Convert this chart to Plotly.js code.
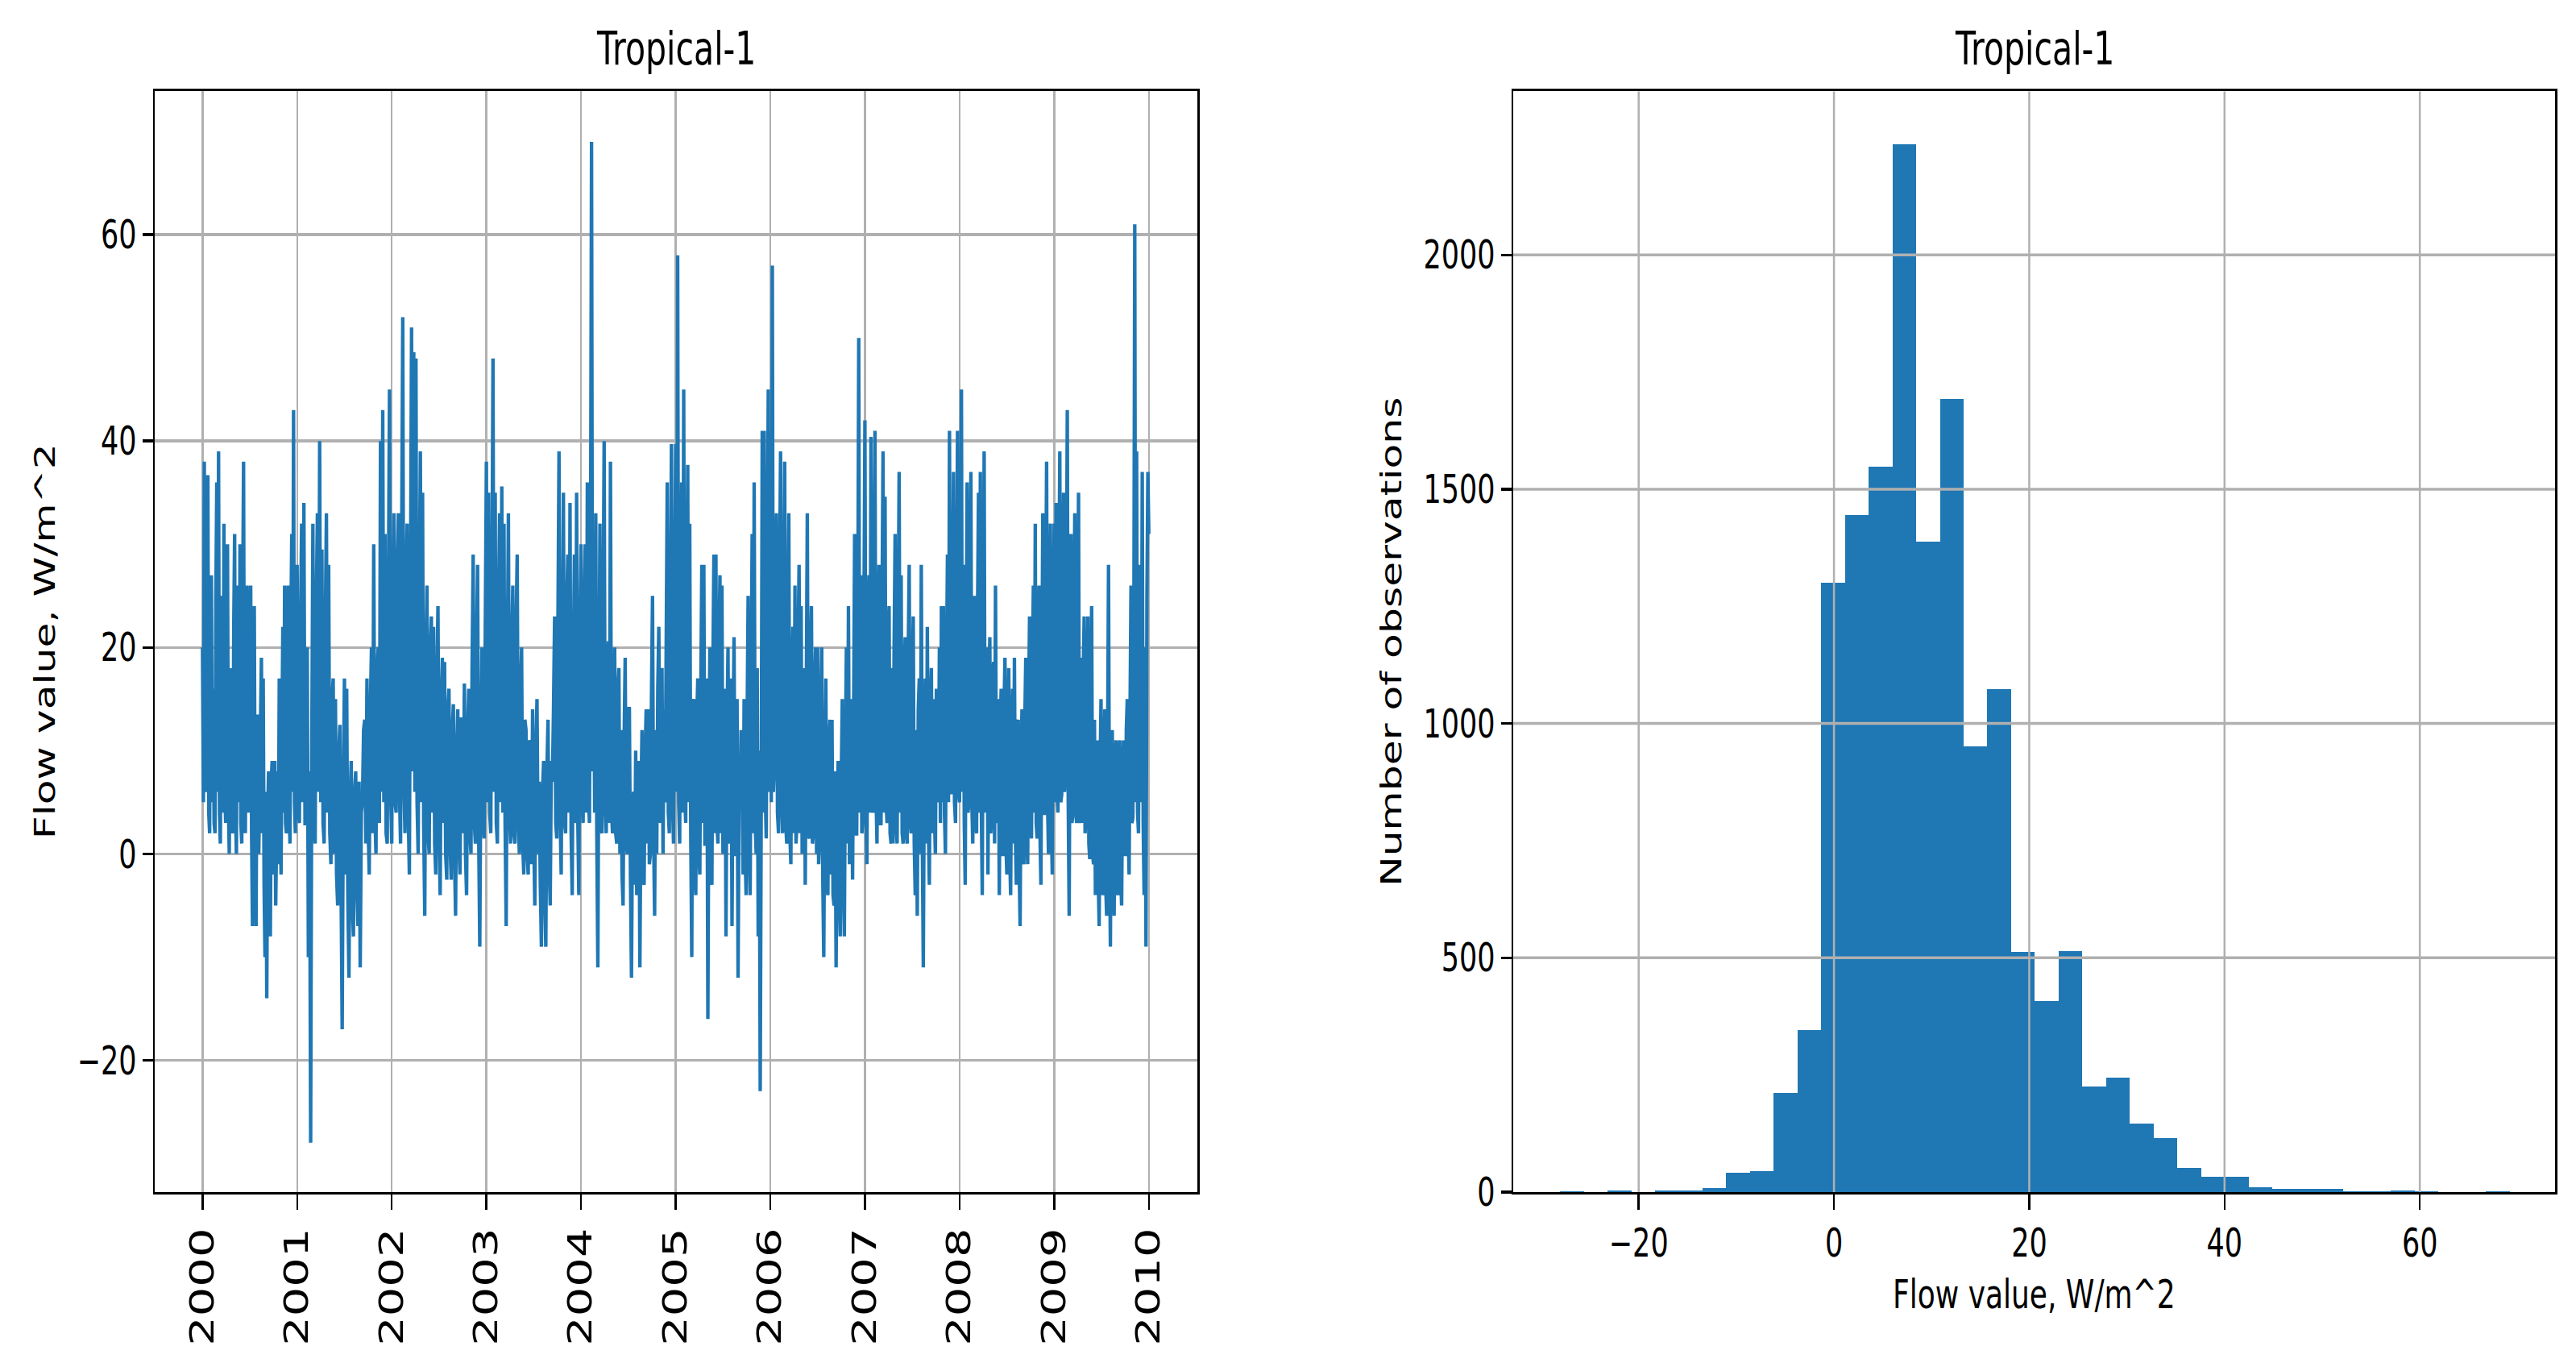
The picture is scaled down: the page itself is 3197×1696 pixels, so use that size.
<!DOCTYPE html>
<html>
<head>
<meta charset="utf-8">
<script src="https://cdn.plot.ly/plotly-3.0.1.min.js"></script>
<style>
  html, body { margin: 0; padding: 0; background: #ffffff; }
  #wrap { width: 3197px; height: 1696px; overflow: hidden; position: relative; background: #ffffff; }
  #plot { width: 3197px; transform-origin: 0 0; }
</style>
</head>
<body>
<div id="wrap"><div id="plot"></div></div>
<script>
// ---------------- DATA ----------------
const chartTitle = "Tropical-1";
const valueLabel = "Flow value, W/m^2";
const countLabel = "Number of observations";

// Flow series (spikes and the dense body), one array per year,
// values spread evenly through each year
const flow2000 = [20,5, 38,6, 8,24, 36.7,4, 2,22, 27,5, 16,3, 2,25, 36,6, 39,4, 1,21, 25,4, 32,6, 3,23, 30,5, 0,18, 13,3, 2,22, 31,4, 0,20, 26,5, 30,3, 1,24, 38,5, 2,20, 26,4, 10,19, 26,2, -7,15, 24,1, -7,12, 13.5,0, 5,14, 19,2, 17,-3, -10,6, -14,4, 8,-4, -8,7, 9,-2, 7,9, -5,6, 8,-1, 17,3, -2,12, 22,4, 26,3, 2,20, 26,5, 1,22, 31,6, 43,5, 2,24];
const flow2001 = [28,4, 3,22, 32,5, 34,3, 3,20, -10,8, -28,10, 32,4, 1,24, 33,6, 40,5, 29.5,3, 1,22, 33,4, 28,2, -1,15, 17,0, 15,-2, -5,10, 12.5,-3, -17,6, 17,-2, 16,-4, -12,5, 9,-5, -8,6, 8,-3, -7,7, -11,4, 5,12, 13,1, 17,3, -2,14, 20,2, 30,4, 0,18, 20,3, 40,6, 43,5, 31,2, 1,25, 45,6];
const flow2002 = [1,26, 33,5, 4,28, 33,6, 1,30, 52,7, 2,27, 32,4, -2,25, 51,8, 48.6,6, 48,5, 0,24, 39,5, 35,3, -6,18, 26,2, 0,20, 23,4, 22,1, -2,17, 24,2, -4,15, 19,3, 18.6,0, -2.5,14, 16,1, -2.5,12, 14.5,0, -6,10, 14,1, -2,13, 13,2, 16.5,0, -4,12, 16,2, 0,18, 29,3, 1,20, 28,2, -9,10, 20,3, 1.5,22];
const flow2003 = [38,5, 35,4, 2,25, 48,6, 35,3, 1,24, 33,5, 35.6,4, 32,3, -7,18, 33,4, 1,20, 26,2, 1,22, 29,3, 0,16, 20,1, -2,13, 12,0, -2,11, 10.4,-1, 14,2, -5,10, 15,0, 7,-3, -9,6, 9,-4, -9,8, 13,-1, -5,9, 7,14, 23,3, 1.5,22, 39,4, -2,20, 35,3, 2,24, 29,4, 34,2, -4,18, 29,3, 35,4, -4,20];
const flow2004 = [30,5, 3,24, 30,4, 36,6, 3,26, 69,8, 23.4,4, 33,2, -11,15, 32,3, 2,22, 40,5, 2,18, 20.6,3, 38,4, 2,17, 20,2, 1,16, 18,0, 12,-2, -5,11, 19,1, 0,14, 14,-2, -12,5, 6,-3, 10,-4, -1,9, -11,5, 12,-2, -3,10, 14,1, 14,-1, 0,15, 25,2, -6,12, 0,16, 22,3, 5.6,18, 0,14, 5,20, 36,4, 2,22, 39.7,5, 1,24];
const flow2005 = [39.7,6, 58,5, 1,26, 36,4, 45,6, 3,24, 37.7,5, 32,2, -10,14, 15,-2, -4,13, 17,0, -2,16, 28,3, 28,1, 1,17, -16,8, 20,0, -3,18, 29,2, 29,3, 1,20, 27,2, 26,0, 2.5,16, -8,12, 20,1, 3,17, -7,11, 21,0, 0,15, -12,6, 5,12, 8,-2, 15,0, -4,13, 25,1, -4,16, 31,2, 36,3, 0,18, -8,10, -23,5, 41,4, 41,6, 1.5,26, 45,6];
const flow2006 = [41,5, 57,6, 8.4,28, 33,4, 2,26, 39,5, 2,24, 38,3, 1,22, 33,2, -1,17, 22,2, 26,1, 3,20, 28,2, 24,0, 3,18, -3,15, 33,2, 1.5,19, 24,1, 2,16, 20,0, 20,-1, 1.5,14, 20,-2, -10,8, 17,-3, -4,11, 13,-2, 13,-4, -5,8, -11,5, 9,-3, -8,7, 15,-2, -8,10, 20,1, 24,-1, 1.5,15, -2.5,13, 31,2, 2,20, 50,4, 27,2, 3,22];
const flow2007 = [42,5, -1,22, 27,4, 40.4,5, 4,25, 41,6, 1,22, 28,3, 3,24, 39,4, 34.6,5, 3,21, 24,2, 1,18, 1,20, 31,3, 1,22, 37,4, 27,2, 1,17, 21,2, 1,19, 28,3, 2,16, 23,1, -4,12, -6,14, 17,0, 28,2, -11,9, 17,1, 22,3, -3,14, 18,2, 15,4, 0,16, 13,5, 20,3, 24,5, 24,4, 0,17, 29,5, 41,6, 6,25, 37,5, 3,23, 41,6];
const flow2008 = [5,24, 45,6, 28,3, -3,20, 36,4, 5,26, 37,5, 1,22, 25,3, 2,23, 35,4, 37,5, -4,19, 39,4, 8.7,20, -2,15, 21,2, 4,17, 18.6,1, 26,3, 4,15, -4,12, 16,0, 0,14, 19,1, -2,12, 18,0, -4,11, 16,1, 19,2, -3,12, 13,-1, -7,9, 14,0, -1,13, 19,2, -1,15, 23,3, 1.5,18, 26,4, 32,3, 1.5,20, 26,2, -3,17, 33,4, 4,22, 38,5, 0,20, 32,3, -2,22];
const flow2009 = [32,5, 34,6, 4,24, 39,5, 5.7,26, 35,6, 7.7,24, 43,5, -6,18, 31,3, 4,22, 33,4, 3,21, 35,3, 4,19, 3,17, 23,2, 4,16, 23,1, -0.5,15, 24,0, -1,13, -4,10, 11,-2, -7,8, 15,-1, -4,9, 14,-3, -6,10, 28,1, -9,8, 12,-2, -6,9, 11,-3, -4,10, 11,-2, -5,8, 11,0, 0,12, 15,2, -2,14, 26,3, 3.5,20, 61,5, 39,4, 2,22, 28,5, 37,3, -4,20, -9,25, 37];
const flow2010 = [31];

const yearLabels = ["2000", "2001", "2002", "2003", "2004", "2005", "2006", "2007", "2008", "2009", "2010"];
const flowTicks = [-20, 0, 20, 40, 60];

// Histogram: 40 equal bins between the series min and max, counts
const histMin = -28.05;
const histMax = 69.2;
const histCounts = [1, 0, 4, 0, 4, 4, 9, 42, 45, 212, 345, 1301, 1445, 1548, 2237, 1388, 1692, 951, 1073, 513,
                    407, 514, 226, 244, 146, 115, 51, 33, 32, 11, 6, 6, 6, 1, 1, 4, 2, 0, 0, 1];
const histXTicks = [-20, 0, 20, 40, 60];
const histYTicks = [0, 500, 1000, 1500, 2000];

// ---------------- BUILD ----------------
const yearly = [flow2000, flow2001, flow2002, flow2003, flow2004, flow2005, flow2006, flow2007, flow2008, flow2009, flow2010];
const tX = [], tY = [];
yearly.forEach((arr, k) => {
  const yr = Number(yearLabels[k]);
  arr.forEach((v, i) => { tX.push(yr + i / arr.length); tY.push(v); });
});

const nBins = histCounts.length;
const binW = (histMax - histMin) / nBins;
const binCenters = histCounts.map((c, i) => histMin + binW * (i + 0.5));

const SY = 1.4;              // vertical stretch of the whole figure
const W = 3197, H = 1696;
const H0 = Math.round(H / SY);
document.getElementById('plot').style.height = H0 + 'px';
document.getElementById('plot').style.transform = 'scaleY(' + (H / H0) + ')';

const FONT = "DejaVu Sans";
const BLUE = "#1f77b4";
const GRID = "#b0b0b0";

const axisCommon = {
  ticks: "outside", ticklen: 13, tickwidth: 2.5, tickcolor: "#000",
  showline: true, linecolor: "#000", linewidth: 2.5, mirror: true,
  zeroline: false, gridcolor: GRID, gridwidth: 2.5,
  tickfont: { family: FONT, size: 35, color: "#000" },
  fixedrange: true
};

const leftDom = [192 / W, 1486 / W];
const rightDom = [1878 / W, 3171 / W];

const traces = [
  {
    type: "scatter", mode: "lines", x: tX, y: tY, xaxis: "x", yaxis: "y",
    line: { color: BLUE, width: 4.3, shape: "linear" }, hoverinfo: "skip", showlegend: false
  },
  {
    type: "bar", x: binCenters, y: histCounts, width: binW, xaxis: "x2", yaxis: "y2",
    marker: { color: BLUE, line: { width: 0 } }, hoverinfo: "skip", showlegend: false
  }
];

const shapes = [];
histXTicks.forEach(v => shapes.push({
  type: "line", xref: "x2", yref: "y2 domain", x0: v, x1: v, y0: 0, y1: 1, layer: "above",
  line: { color: GRID, width: 2.5 }
}));
histYTicks.filter(v => v > 0).forEach(v => shapes.push({
  type: "line", xref: "x2 domain", yref: "y2", x0: 0, x1: 1, y0: v, y1: v, layer: "above",
  line: { color: GRID, width: 2.5 }
}));

const ann = (text, x, y, opts) => Object.assign({
  text: text, xref: "paper", yref: "paper", x: x, y: y, showarrow: false,
  font: { family: FONT, size: 36, color: "#000" }
}, opts);

const annotations = [
  ann(chartTitle, (leftDom[0] + leftDom[1]) / 2, 1, { yanchor: "bottom", xanchor: "center", yshift: 12, font: { family: FONT, size: 41, color: "#000" } }),
  ann(chartTitle, (rightDom[0] + rightDom[1]) / 2, 1, { yanchor: "bottom", xanchor: "center", yshift: 12, font: { family: FONT, size: 41, color: "#000" } }),
  ann(valueLabel, 56 / W, 0.5, { textangle: -90, xanchor: "center", yanchor: "middle" }),
  ann(countLabel, 1727 / W, 0.5, { textangle: -90, xanchor: "center", yanchor: "middle" }),
  ann(valueLabel, (rightDom[0] + rightDom[1]) / 2, 0, { xanchor: "center", yanchor: "top", yshift: -68 })
];

const layout = {
  width: W, height: H0,
  margin: { l: 0, r: 0, t: 81, b: H0 - 81 - Math.round(1365 / SY), pad: 0 },
  paper_bgcolor: "#ffffff", plot_bgcolor: "#ffffff",
  showlegend: false, bargap: 0,
  xaxis: Object.assign({}, axisCommon, {
    domain: leftDom, anchor: "y", range: [1999.495, 2010.513],
    tickmode: "array", tickvals: yearLabels.map(Number), ticktext: yearLabels,
    tickangle: -90, showgrid: true,
    tickfont: { family: FONT, size: 41, color: "#000" }
  }),
  yaxis: Object.assign({}, axisCommon, {
    domain: [0, 1], anchor: "x", range: [-32.77, 73.88],
    tickmode: "array", tickvals: flowTicks, showgrid: true
  }),
  xaxis2: Object.assign({}, axisCommon, {
    domain: rightDom, anchor: "y2", range: [-32.85, 73.85],
    tickmode: "array", tickvals: histXTicks, showgrid: false
  }),
  yaxis2: Object.assign({}, axisCommon, {
    domain: [0, 1], anchor: "x2", range: [0, 2349],
    tickmode: "array", tickvals: histYTicks, showgrid: false
  }),
  shapes: shapes,
  annotations: annotations
};

Plotly.newPlot("plot", traces, layout, { staticPlot: true, displayModeBar: false });
</script>
</body>
</html>
